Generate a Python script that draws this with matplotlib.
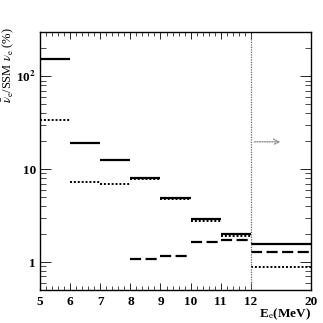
import numpy as np
import matplotlib
matplotlib.use("Agg")
import matplotlib.pyplot as plt
from matplotlib.ticker import FixedLocator, FixedFormatter, NullFormatter

# bin edges in E_e (MeV); last bin is 12-20
edges = [5, 6, 7, 8, 9, 10, 11, 12, 20]
solid = [155, 19.1, 12.6, 8.1, 4.94, 2.94, 2.0, 1.55]
dotted = [34, 7.35, 6.95, 7.8, 4.8, 2.8, 1.92, 0.89]
dash_edges = [8, 9, 10, 11, 12, 20]
dashed = [1.085, 1.15, 1.64, 1.73, 1.30]
arrow_y = 19.7

plt.rcParams['font.family'] = ['Liberation Serif', 'DejaVu Serif']
plt.rcParams['mathtext.fontset'] = 'stix'


def fwd(x):
    x = np.asarray(x, dtype=float)
    return np.where(x <= 12, x, 12 + (x - 12) / 4.0)


def inv(u):
    u = np.asarray(u, dtype=float)
    return np.where(u <= 12, u, 12 + (u - 12) * 4.0)


fig = plt.figure(figsize=(3.23, 3.23), dpi=100)
ax = fig.add_axes([0.124, 0.102, 0.839, 0.799])
ax.set_xscale('function', functions=(fwd, inv))
ax.set_yscale('log')

for i in range(len(solid)):
    ax.plot([edges[i], edges[i + 1]], [solid[i], solid[i]], color='black', lw=1.6,
            solid_capstyle='butt')
    ax.plot([edges[i], edges[i + 1]], [dotted[i], dotted[i]], color='black', lw=1.4,
            linestyle=(0, (1, 1)))
for i in range(len(dashed)):
    ax.plot([dash_edges[i], dash_edges[i + 1]], [dashed[i], dashed[i]], color='black', lw=1.6,
            linestyle=(0, (5, 2)))

ax.axvline(12, color='#666666', lw=0.9, linestyle=(0, (1, 1)))
ax.annotate('', xy=(16.3, arrow_y), xytext=(12.1, arrow_y),
            arrowprops=dict(arrowstyle='->', color='#888888', lw=0.9, linestyle=(0, (1, 1))))

ax.set_xlim(5, 20)
ax.set_ylim(0.5, 300)

ax.xaxis.set_major_locator(FixedLocator([5, 6, 7, 8, 9, 10, 11, 12, 20]))
ax.xaxis.set_major_formatter(FixedFormatter(['5', '6', '7', '8', '9', '10', '11', '12', '20']))
ax.xaxis.set_minor_locator(FixedLocator([x for x in np.arange(5, 12.01, 0.2)]))
ax.yaxis.set_major_locator(FixedLocator([1, 10, 100]))
ax.yaxis.set_major_formatter(FixedFormatter(['1', '10', r'10$^{\mathbf{2}}$']))
ax.yaxis.set_minor_formatter(NullFormatter())

ax.tick_params(which='both', direction='in', top=True, right=True, labelsize=9.5)
ax.tick_params(axis='x', which='major', length=5, width=0.6, pad=4)
ax.tick_params(axis='x', which='minor', length=3, width=0.5)
ax.tick_params(axis='y', which='major', length=8, width=0.6, pad=3)
ax.tick_params(axis='y', which='minor', length=4, width=0.5)
for lab in ax.get_xticklabels() + ax.get_yticklabels():
    lab.set_fontweight('bold')
for s in ax.spines.values():
    s.set_linewidth(1.0)

ax.set_xlabel(r'E$_\mathrm{e}$(MeV)', fontsize=9.5, fontweight='bold')
ax.xaxis.set_label_coords(1.0, -0.065)
ax.xaxis.label.set_horizontalalignment('right')
ax.xaxis.label.set_verticalalignment('top')
ax.set_ylabel(r'$\bar{\nu}_\mathrm{e}$/SSM $\nu_\mathrm{e}$ (%)', fontsize=9)
ax.yaxis.set_label_coords(-0.118, 1.02)
ax.yaxis.label.set_horizontalalignment('right')
ax.yaxis.label.set_verticalalignment('center')

fig.savefig('out.png', dpi=100, facecolor='white')
